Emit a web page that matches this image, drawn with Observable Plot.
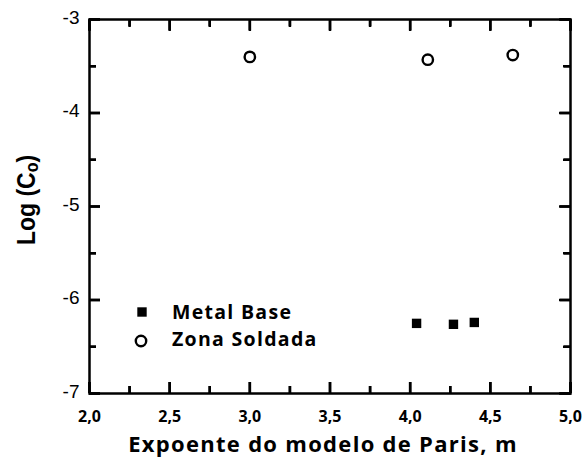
<!DOCTYPE html>
<html>
<head>
<meta charset="utf-8">
<script src="https://cdn.jsdelivr.net/npm/d3@7"></script>
<script src="https://cdn.jsdelivr.net/npm/@observablehq/plot@0.6"></script>
<style>
  body { margin: 0; background: #fff; }
  #chart { position: relative; width: 586px; height: 462px; }
</style>
</head>
<body>
<div id="chart"></div>
<script>
// Tick positions
const xMajor = [2.0, 2.5, 3.0, 3.5, 4.0, 4.5, 5.0];
const xMinor = [2.25, 2.75, 3.25, 3.75, 4.25, 4.75];
const yMajor = [-3, -4, -5, -6, -7];
const yMinor = [-3.5, -4.5, -5.5, -6.5];

// Paris exponent m and Log(C0) for each series
const metalM = [4.04, 4.27, 4.40];
const metalLogC = [-6.25, -6.26, -6.24];
const zonaM = [3.00, 4.11, 4.64];
const zonaLogC = [-3.40, -3.43, -3.38];

const seriesNames = ["Metal Base", "Zona Soldada"];

const metal = metalM.map((m, i) => ({m, c: metalLogC[i]}));
const zona = zonaM.map((m, i) => ({m, c: zonaLogC[i]}));

const commaFmt = d => d.toFixed(1).replace(".", ",");
const boldFont = "'Open Sans', Lato, sans-serif";
const yFont = "'Liberation Sans Narrow', 'Liberation Sans', Arial, sans-serif";

const W = 586, H = 462;
const M = {top: 19, right: 16, bottom: 69, left: 89};
const innerW = W - M.left - M.right;
const innerH = H - M.top - M.bottom;

// inward ticks: a full-span tick inset so only `len` pixels remain at one edge
const tickStyle = {stroke: "#000", strokeWidth: 2.5};
const ticksBottom = (v, len) => Plot.tickX(v, {x: d => d, insetTop: innerH - len, ...tickStyle});
const ticksTop = (v, len) => Plot.tickX(v, {x: d => d, insetBottom: innerH - len, ...tickStyle});
const ticksLeft = (v, len) => Plot.tickY(v, {y: d => d, insetRight: innerW - len, ...tickStyle});
const ticksRight = (v, len) => Plot.tickY(v, {y: d => d, insetLeft: innerW - len, ...tickStyle});

// the same inward ticks as axis marks shifted back into the frame
const noText = () => "";
const axisTicks = (v, len) => [
  Plot.axisX({anchor: "bottom", ticks: v, tickSize: len, dy: -len, tickFormat: noText, ...tickStyle}),
  Plot.axisX({anchor: "top", ticks: v, tickSize: len, dy: len, tickFormat: noText, ...tickStyle})
];
const axisTicksY = (v, len) => [
  Plot.axisY({anchor: "left", ticks: v, tickSize: len, dx: len, tickFormat: noText, ...tickStyle}),
  Plot.axisY({anchor: "right", ticks: v, tickSize: len, dx: -len, tickFormat: noText, ...tickStyle})
];

const chart = Plot.plot({
  width: W,
  height: H,
  marginLeft: M.left,
  marginRight: M.right,
  marginTop: M.top,
  marginBottom: M.bottom,
  style: {background: "#fff", color: "#000"},
  x: {domain: [2, 5], label: null},
  y: {domain: [-7, -3], label: null},
  marks: [
    Plot.frame({fill: "none", stroke: "#000", strokeWidth: 2.5}),
    ticksBottom(xMajor, 11),
    ticksBottom(xMinor, 7),
    ticksTop(xMajor, 11),
    ticksTop(xMinor, 7),
    ticksLeft(yMajor, 11),
    ticksLeft(yMinor, 7),
    ticksRight(yMajor, 11),
    ticksRight(yMinor, 7),
    axisTicks(xMajor, 11),
    axisTicks(xMinor, 7),
    axisTicksY(yMajor, 11),
    axisTicksY(yMinor, 7),
    Plot.axisX({anchor: "bottom", ticks: xMajor, tickSize: 0, tickPadding: 17,
      tickFormat: commaFmt, fontSize: 16, fontWeight: "bold", fontFamily: boldFont}),
    Plot.axisY({anchor: "left", ticks: yMajor, tickSize: 0, tickPadding: 10, dy: -2,
      tickFormat: d => String(d), fontSize: 19, fontFamily: yFont}),
    Plot.dot(metal, {x: "m", y: "c", symbol: "square", r: 5.3, fill: "#000", stroke: "none"}),
    Plot.dot(zona, {x: "m", y: "c", symbol: "circle", r: 5.2, fill: "#fff", stroke: "#000", strokeWidth: 2.4})
  ]
});

document.getElementById("chart").appendChild(chart);

const svg = d3.select(chart);

// x axis title
svg.append("text")
  .attr("x", 323)
  .attr("y", 452)
  .attr("text-anchor", "middle")
  .attr("font-family", boldFont)
  .attr("font-weight", "bold")
  .attr("font-size", 22)
  .attr("letter-spacing", 1.3)
  .attr("fill", "#000")
  .text("Expoente do modelo de Paris, m");

// y axis title with subscript
const yt = svg.append("text")
  .attr("transform", "translate(35,200) rotate(-90) scale(1,1.15)")
  .attr("text-anchor", "middle")
  .attr("font-family", "'Liberation Sans', Arial, sans-serif")
  .attr("font-weight", "bold")
  .attr("font-size", 23)
  .attr("fill", "#000");
yt.append("tspan").text("Log (C");
yt.append("tspan").attr("font-size", 16).attr("dy", 3).text("o");
yt.append("tspan").attr("dy", -3).text(")");

// legend
const legend = svg.append("g")
  .attr("font-family", boldFont)
  .attr("font-weight", "bold")
  .attr("font-size", 19.5)
  .attr("letter-spacing", 1.3)
  .attr("text-anchor", "start");
const symbolSquare = d3.symbol(d3.symbolSquare, Math.PI * 5.3 * 5.3);
legend.append("path").attr("d", symbolSquare()).attr("transform", "translate(142,312)").attr("fill", "#000");
legend.append("text").attr("x", 172).attr("y", 319).attr("fill", "#000").text(seriesNames[0]);
legend.append("circle").attr("cx", 141).attr("cy", 341).attr("r", 5.2)
  .attr("fill", "#fff").attr("stroke", "#000").attr("stroke-width", 2.4);
legend.append("text").attr("x", 172).attr("y", 346).attr("fill", "#000").text(seriesNames[1]);
</script>
</body>
</html>
